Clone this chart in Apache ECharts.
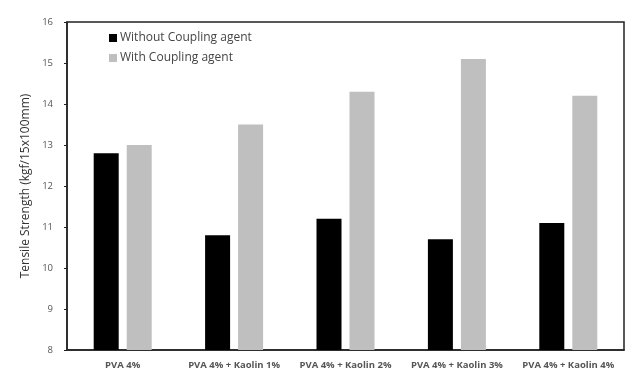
<!DOCTYPE html>
<html><head><meta charset="utf-8">
<script src="https://cdn.jsdelivr.net/npm/echarts@6/dist/echarts.min.js"></script>
<style>html,body{margin:0;padding:0;background:#fff}#c{width:638px;height:379px}</style>
</head><body><div id="c"></div>
<script>
const categories = ['PVA 4%', 'PVA 4% + Kaolin 1%', 'PVA 4% + Kaolin 2%', 'PVA 4% + Kaolin 3%', 'PVA 4% + Kaolin 4%'];
const withoutAgent = [12.8, 10.8, 11.2, 10.7, 11.1];
const withAgent = [13.0, 13.5, 14.3, 15.1, 14.2];
const seriesNames = ['Without Coupling agent', 'With Coupling agent'];

const chart = echarts.init(document.getElementById('c'));
chart.setOption({
  animation: false,
  textStyle: { fontFamily: 'Open Sans, sans-serif' },
  grid: { left: 67, top: 22, right: 14, bottom: 29, show: true, borderColor: '#222', borderWidth: 1.5 },
  legend: {
    left: 104, top: 27, orient: 'vertical', icon: 'rect', itemWidth: 8, itemHeight: 8, itemGap: 8,
    textStyle: { color: '#444', fontSize: 12, padding: [0, 0, 0, -2] },
    data: seriesNames
  },
  xAxis: {
    type: 'category', data: categories,
    axisLine: { lineStyle: { color: '#222', width: 1.5 } },
    axisTick: { show: false },
    axisLabel: { color: '#555', fontSize: 9.5, fontWeight: 'bold', margin: 10, interval: 0 }
  },
  yAxis: {
    type: 'value', min: 8, max: 16, interval: 1,
    name: 'Tensile Strength (kgf/15x100mm)', nameLocation: 'middle', nameGap: 35,
    nameTextStyle: { color: '#333', fontSize: 12 },
    axisLine: { show: true, lineStyle: { color: '#222', width: 1.5 } },
    axisTick: { show: true, length: 3, lineStyle: { color: '#222' } },
    axisLabel: { color: '#555', fontSize: 9.5, margin: 14 },
    splitLine: { show: false }
  },
  series: [
    { name: seriesNames[0], type: 'bar', data: withoutAgent, barWidth: 25, barGap: '32%', itemStyle: { color: '#000' } },
    { name: seriesNames[1], type: 'bar', data: withAgent, barWidth: 25, itemStyle: { color: '#bfbfbf' } }
  ]
});
</script></body></html>
